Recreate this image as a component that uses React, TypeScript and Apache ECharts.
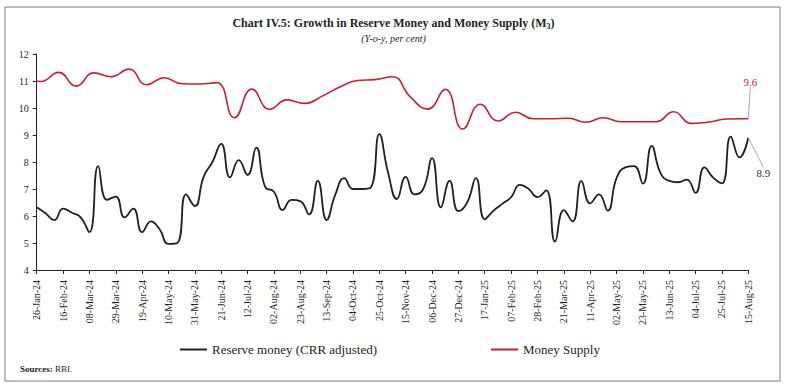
import React, { useEffect, useRef } from "react";
import * as echarts from "echarts";

const START_DATE = Date.UTC(2024, 0, 26);
const WEEKS = 82;
const MONTHS = ["Jan", "Feb", "Mar", "Apr", "May", "Jun", "Jul", "Aug", "Sep", "Oct", "Nov", "Dec"];

// Weekly x-axis categories (Fridays, 26-Jan-24 ... 15-Aug-25)
const categories: string[] = Array.from({ length: WEEKS }, (_, i) => {
  const d = new Date(START_DATE + i * 7 * 86400000);
  return `${String(d.getUTCDate()).padStart(2, "0")}-${MONTHS[d.getUTCMonth()]}-${String(d.getUTCFullYear()).slice(2)}`;
});

// Reserve money (CRR adjusted), weekly, y-o-y %
const reserveMoney: number[] = [
  6.32, 6.1, 5.85, 6.27, 6.12, 5.95, 5.4, 7.85, 6.6, 6.72,
  5.95, 6.27, 5.4, 5.8, 5.5, 4.97, 5.0, 6.8, 6.37, 7.45,
  8.0, 8.67, 7.43, 8.07, 7.52, 8.53, 7.08, 6.9, 6.22, 6.6,
  6.55, 6.06, 7.3, 5.85, 6.8, 7.4, 7.0, 7.0, 7.05, 9.03,
  7.6, 6.63, 7.45, 6.8, 7.0, 8.14, 6.32, 7.3, 6.18, 6.5,
  7.4, 5.88, 6.2, 6.45, 6.7, 7.15, 7.0, 6.7, 6.95, 5.05,
  6.22, 5.8, 7.3, 6.47, 6.8, 6.2, 7.4, 7.8, 7.85, 7.2,
  8.6, 7.6, 7.3, 7.25, 7.35, 6.86, 7.8, 7.42, 7.21, 8.94,
  8.17, 8.9,
];

// Money supply (M3), fortnightly; position in weeks after 26-Jan-24
const moneySupplyWeek: number[] = [
  0, 0.5, 2.5, 4.5, 6.5, 8.5, 10.5, 12.5, 14.5, 16.5,
  18.5, 20.5, 22.5, 24.5, 26.5, 28.5, 30.5, 32.5, 34.5, 36.5,
  38.5, 40.5, 42.5, 44.5, 46.5, 48.5, 50.5, 52.5, 54.5, 56.5,
  58.5, 60.5, 62.5, 64.5, 66.5, 68.5, 70.5, 72.5, 74.5, 76.5,
  78.5, 80.5, 81,
];
const moneySupply: number[] = [
  11.0, 10.98, 11.32, 10.81, 11.3, 11.16, 11.44, 10.86, 11.12, 10.9,
  10.89, 10.94, 9.64, 10.7, 9.95, 10.3, 10.17, 10.44, 10.78, 11.02,
  11.05, 11.16, 10.42, 9.96, 10.69, 9.22, 10.14, 9.52, 9.84, 9.6,
  9.6, 9.62, 9.47, 9.64, 9.49, 9.49, 9.49, 9.86, 9.43, 9.48,
  9.59, 9.6, 9.6,
];

const SERIES_NAMES = ["Reserve money (CRR adjusted)", "Money Supply"];
const Y_MIN = 4;
const Y_MAX = 12;

const FONT = "'Liberation Serif', 'Times New Roman', serif";
const RED = "#c8202f";
const BLACK = "#231f20";

function endLabelItem(value: any, shown: number, color: string) {
  return {
    value,
    symbol: "circle",
    symbolSize: 1,
    itemStyle: { color: "rgba(0,0,0,0)" },
    label: {
      show: true,
      color,
      fontFamily: FONT,
      fontSize: 11,
      formatter: () => shown.toFixed(1),
    },
  };
}

const reserveData = reserveMoney.map((v, i) =>
  i === reserveMoney.length - 1 ? endLabelItem(v, v, "#333333") : v
);
const moneyData = moneySupply.map((v, i) =>
  i === moneySupply.length - 1
    ? endLabelItem([moneySupplyWeek[i], v], v, RED)
    : [moneySupplyWeek[i], v]
);

export default function App() {
  const ref = useRef<HTMLDivElement>(null);

  useEffect(() => {
    if (!ref.current) return;
    const chart = echarts.init(ref.current, null, { renderer: "svg" });
    chart.setOption({
      animation: false,
      backgroundColor: "#ffffff",
      title: {
        text: "Chart IV.5: Growth in Reserve Money and Money Supply (M{s|3})",
        left: "center",
        top: 11,
        textStyle: {
          fontFamily: FONT,
          fontSize: 12,
          fontWeight: "bold",
          color: "#231f20",
          rich: {
            s: { fontFamily: FONT, fontSize: 8, fontWeight: "bold", color: "#231f20", padding: [6, 0, 0, 0] },
          },
        },
        subtext: "(Y-o-y, per cent)",
        subtextStyle: { fontFamily: FONT, fontStyle: "italic", fontSize: 10, color: "#231f20" },
        itemGap: 4,
      },
      legend: {
        left: 180,
        top: 343,
        padding: 0,
        icon: "rect",
        itemWidth: 27,
        itemHeight: 2,
        itemGap: 114,
        textStyle: { fontFamily: FONT, fontSize: 13, color: "#231f20" },
        data: SERIES_NAMES,
      },
      grid: { left: 36.7, right: 38.7, top: 54, bottom: 119, containLabel: false },
      xAxis: [
        {
          type: "category",
          data: categories,
          boundaryGap: false,
          axisLine: { lineStyle: { color: "#231f20", width: 1 } },
          axisTick: { interval: 2, length: 4, lineStyle: { color: "#231f20" } },
          axisLabel: {
            interval: 2,
            rotate: 90,
            margin: 10,
            fontFamily: FONT,
            fontSize: 10,
            color: "#231f20",
          },
          splitLine: { show: false },
        },
        {
          type: "value",
          min: 0,
          max: WEEKS - 1,
          show: false,
          splitLine: { show: false },
        },
      ],
      yAxis: {
        type: "value",
        min: Y_MIN,
        max: Y_MAX,
        interval: 1,
        axisLine: { show: true, lineStyle: { color: "#231f20", width: 1 } },
        axisTick: { show: true, length: 4, lineStyle: { color: "#231f20" } },
        axisLabel: { margin: 8, fontFamily: FONT, fontSize: 10, color: "#231f20" },
        splitLine: { show: false },
      },
      series: [
        {
          name: SERIES_NAMES[0],
          type: "line",
          xAxisIndex: 0,
          data: reserveData,
          smooth: 0.5,
          symbol: "none",
          showAllSymbol: true,
          clip: false,
          lineStyle: { color: BLACK, width: 1.8 },
          itemStyle: { color: BLACK },
          label: { position: "bottom", distance: 4 },
          labelLayout: { dx: 15, dy: 25 },
          labelLine: { show: true, lineStyle: { color: "#a6a6a6", width: 1 } },
        },
        {
          name: SERIES_NAMES[1],
          type: "line",
          xAxisIndex: 1,
          data: moneyData,
          smooth: 0.5,
          symbol: "none",
          showAllSymbol: true,
          clip: false,
          lineStyle: { color: RED, width: 1.6 },
          itemStyle: { color: RED },
          label: { position: "top", distance: 4 },
          labelLayout: { dx: 2, dy: -27 },
          labelLine: { show: true, lineStyle: { color: "#a6a6a6", width: 1 } },
        },
      ],
      graphic: [
        {
          type: "rect",
          shape: { x: 5, y: 7, width: 775, height: 374 },
          style: { fill: "none", stroke: "#7f7f7f", lineWidth: 1 },
          silent: true,
        },
        {
          type: "text",
          left: 20,
          top: 364,
          style: {
            text: "{b|Sources:} RBI.",
            rich: {
              b: { fontFamily: FONT, fontSize: 9, fontWeight: "bold", fill: "#231f20" },
            },
            fontFamily: FONT,
            fontSize: 9,
            fill: "#231f20",
          },
        },
      ],
    });
    return () => chart.dispose();
  }, []);

  return (
    <div
      ref={ref}
      style={{ position: "fixed", left: 0, top: 0, width: 787, height: 389, background: "#fff" }}
    />
  );
}
